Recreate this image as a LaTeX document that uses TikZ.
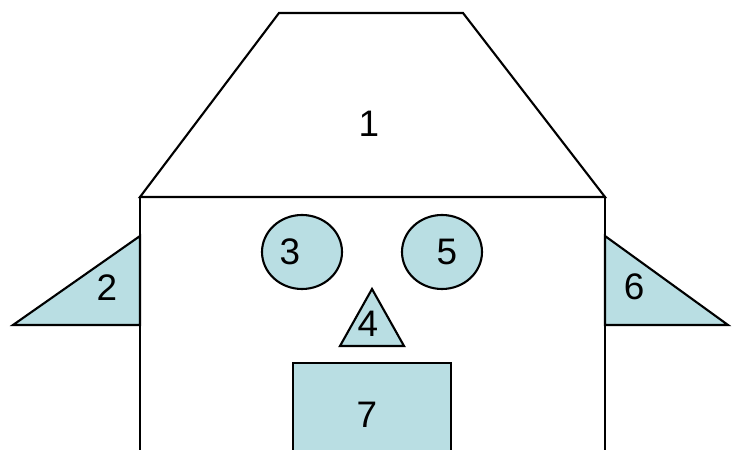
\documentclass[tikz,border=0pt]{standalone}
\usepackage{fontspec}
\setmainfont{Liberation Sans}
\definecolor{facefill}{RGB}{185,222,227}
\tikzset{
    outline/.style={line width=1.2pt, black, line join=miter},
    part/.style={outline, fill=facefill},
    numlabel/.style={inner sep=0pt, font=\fontsize{21}{25}\selectfont}
}
\begin{document}
\begin{tikzpicture}[x=0.2mm, y=0.2mm]
    \useasboundingbox (0,0) rectangle (739,450);
    \clip (0,0) rectangle (739,450);

    % 帽子
    \draw[outline] (279,437) -- (463,437) -- (605,253) -- (140,253) -- cycle;
    \node[numlabel] (n1) at (369,326) {1};

    % 脸
    \draw[outline] (140,-10) -- (140,253) -- (605,253) -- (605,-10);

    % 耳朵
    \draw[part] (13,125) -- (140,214) -- (140,125) -- cycle;
    \node[numlabel] (n2) at (107,162) {2};
    \draw[part] (605,214) -- (605,125) -- (728,125) -- cycle;
    \node[numlabel] (n6) at (634,163) {6};

    % 眼睛
    \draw[part] (302,198) ellipse (40 and 37);
    \node[numlabel] (n3) at (290,198) {3};
    \draw[part] (442,198) ellipse (40 and 37);
    \node[numlabel] (n5) at (447,198) {5};

    % 鼻子
    \draw[part] (372,161) -- (340,104) -- (404,104) -- cycle;
    \node[numlabel] (n4) at (368,126) {4};

    % 嘴
    \draw[part] (293,-10) -- (293,87) -- (451,87) -- (451,-10);
    \node[numlabel] (n7) at (367,35) {7};
\end{tikzpicture}
\end{document}
